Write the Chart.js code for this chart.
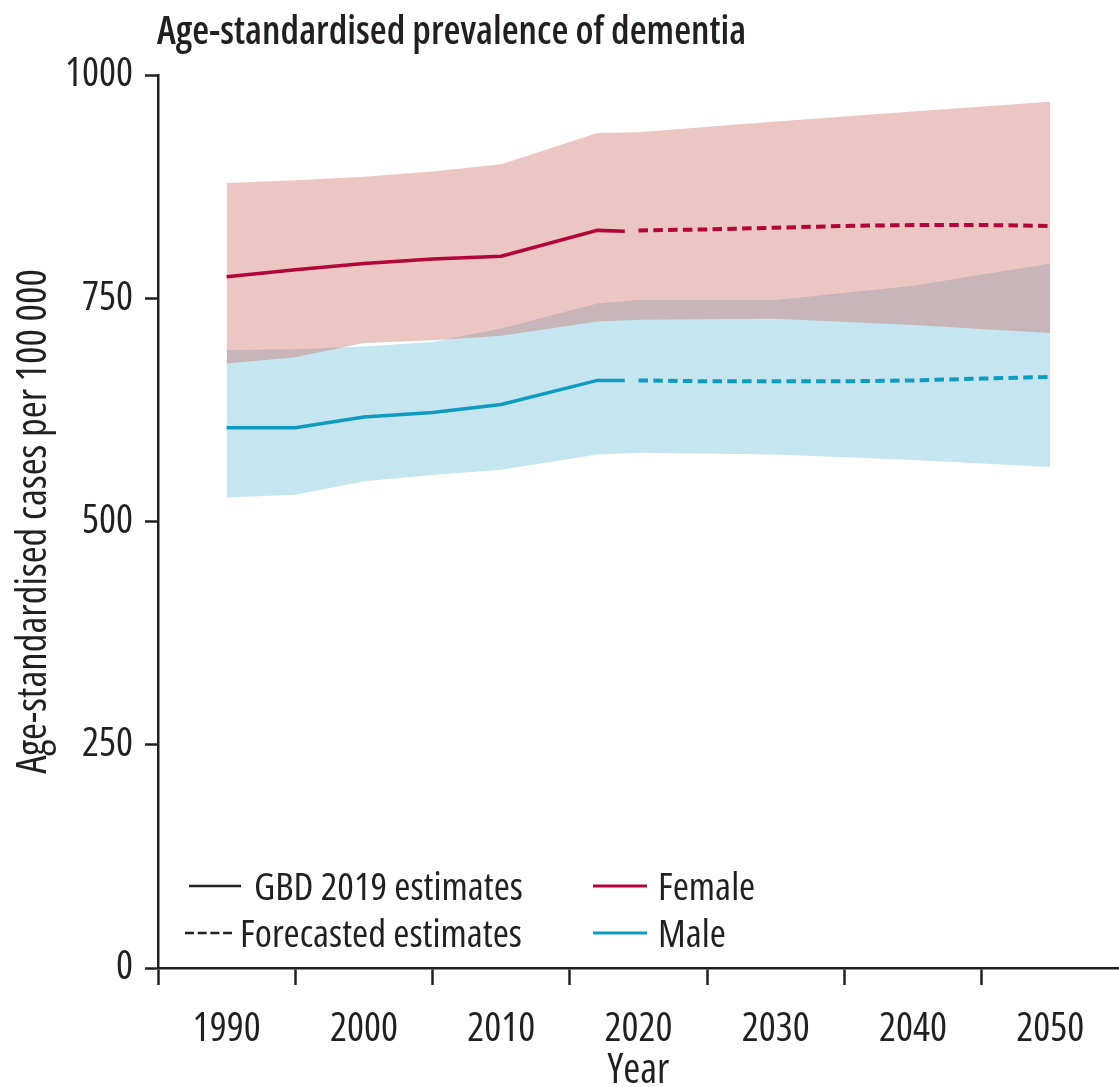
<!DOCTYPE html>
<html>
<head>
<meta charset="utf-8">
<title>Age-standardised prevalence of dementia</title>
<script src="https://cdn.jsdelivr.net/npm/chart.js@4.4.1/dist/chart.umd.min.js"></script>
<style>
  html, body { margin: 0; padding: 0; background: #fff; }
  #wrap {
    position: relative; width: 1119px; height: 1087px;
    font-family: 'Open Sans', sans-serif; color: #231f20;
  }
  #chartBox { position: absolute; left: 0; top: 0; width: 1119px; height: 1087px; }
  .title {
    position: absolute; left: 157px; top: 9px; line-height: 40px;
    font-size: 38.8px; font-weight: 600; font-stretch: condensed; white-space: nowrap;
  }
  .leg-text {
    position: absolute; line-height: 40px; font-size: 39px; font-stretch: condensed; white-space: nowrap;
  }
  .leg-line { position: absolute; overflow: visible; }
</style>
</head>
<body>
<div id="wrap">
  <div id="chartBox"><canvas id="demChart"></canvas></div>
  <div class="title">Age-standardised prevalence of dementia</div>

  <!-- leyenda: tipo de estimación y sexo -->
  <svg class="leg-line" style="left:185px; top:876px" width="60" height="20">
    <line x1="4" y1="10" x2="56" y2="10" stroke="#231f20" stroke-width="2.5"/>
  </svg>
  <div class="leg-text" style="left:254px; top:865px">GBD 2019 estimates</div>
  <svg class="leg-line" style="left:185px; top:923px" width="60" height="20">
    <line x1="0" y1="10" x2="47" y2="10" stroke="#231f20" stroke-width="2.5" stroke-dasharray="9 3.7"/>
  </svg>
  <div class="leg-text" style="left:240px; top:912px">Forecasted estimates</div>

  <svg class="leg-line" style="left:590px; top:876px" width="60" height="20">
    <line x1="3" y1="10" x2="57" y2="10" stroke="#b2063a" stroke-width="3"/>
  </svg>
  <div class="leg-text" style="left:658px; top:865px">Female</div>
  <svg class="leg-line" style="left:590px; top:923px" width="60" height="20">
    <line x1="3" y1="10" x2="57" y2="10" stroke="#0f9bbf" stroke-width="3"/>
  </svg>
  <div class="leg-text" style="left:658px; top:912px">Male</div>
</div>

<script>
// Datos (casos por 100 000)
const estimateYears = [1990, 1995, 2000, 2005, 2010, 2017, 2019];
const femaleEstimate = [774, 782, 789, 794, 797, 826, 825];
const maleEstimate = [605, 605, 617, 622, 631, 658, 658];

const forecastYears = [2020, 2025, 2030, 2035, 2040, 2045, 2050];
const femaleForecast = [826, 827, 829, 831, 832, 832, 831];
const maleForecast = [658, 657, 657, 657, 658, 660, 662];

// Intervalos de incertidumbre
const bandYears = [1990, 1995, 2000, 2005, 2010, 2017, 2020, 2030, 2040, 2050];
const femaleUpper = [879, 882, 886, 892, 900, 935, 936, 948, 959, 970];
const femaleLower = [677, 684, 700, 703, 708, 724, 726, 727, 720, 711];
const maleUpper = [692, 693, 696, 701, 716, 744, 748, 748, 764, 789];
const maleLower = [527, 530, 545, 552, 558, 575, 577, 575, 569, 561];

const yTickValues = [0, 250, 500, 750, 1000];

const ink = '#231f20';
const femaleColor = '#b2063a';
const maleColor = '#0f9bbf';
const fontFamily = "'Open Sans', sans-serif";
const pesoTexto = '400 condensed';   // cara condensada en el canvas
const tickSize = 40;
const axisTitleSize = 41;

function puntos(xs, ys) {
    return xs.map((x, i) => ({ x: x, y: ys[i] }));
}

function linea(xs, ys, color, dashed) {
    return {
        data: puntos(xs, ys),
        borderColor: color,
        borderWidth: dashed ? 4 : 3.5,
        borderDash: dashed ? [9.5, 5.3] : [],
        fill: false,
        pointRadius: 0
    };
}

function banda(xs, ys, fillColor, fillTarget) {
    return {
        data: puntos(xs, ys),
        borderColor: 'transparent',
        borderWidth: 0,
        backgroundColor: fillColor,
        fill: fillTarget,
        pointRadius: 0
    };
}

const ctx = document.getElementById('demChart').getContext('2d');
new Chart(ctx, {
    type: 'line',
    data: {
        datasets: [
            linea(forecastYears, femaleForecast, femaleColor, true),
            linea(estimateYears, femaleEstimate, femaleColor, false),
            linea(forecastYears, maleForecast, maleColor, true),
            linea(estimateYears, maleEstimate, maleColor, false),
            banda(bandYears, femaleUpper, 'rgba(202, 98, 87, 0.36)', '+1'),
            banda(bandYears, femaleLower, 'transparent', false),
            banda(bandYears, maleUpper, '#c5e5f1', '+1'),
            banda(bandYears, maleLower, 'transparent', false)
        ]
    },
    options: {
        responsive: true,
        maintainAspectRatio: false,
        animation: false,
        layout: { padding: { top: 75, right: 0, bottom: 0, left: 0 } },
        elements: { line: { tension: 0 } },
        plugins: {
            legend: { display: false },
            tooltip: { enabled: false },
            title: { display: false }
        },
        scales: {
            x: {
                type: 'linear',
                min: 1985,
                max: 2055,
                afterFit: function(scale) {
                    scale.height = 119;
                    scale.paddingLeft = 0;
                    scale.paddingRight = 0;
                },
                border: { display: true, color: ink, width: 2.5 },
                grid: {
                    drawOnChartArea: false,
                    drawTicks: true,
                    tickLength: 17,
                    tickWidth: 2.5,
                    tickColor: c => (c.tick && c.tick.value % 10 === 5 && c.tick.value <= 2045) ? ink : 'rgba(0,0,0,0)'
                },
                ticks: {
                    stepSize: 5,
                    autoSkip: false,
                    maxRotation: 0,
                    padding: 21,
                    color: ink,
                    font: { family: fontFamily, size: tickSize, weight: pesoTexto },
                    callback: v => (v % 10 === 0 ? String(v) : '')
                },
                title: {
                    display: true,
                    text: 'Year',
                    color: ink,
                    padding: 0,
                    font: { family: fontFamily, size: axisTitleSize, weight: pesoTexto, lineHeight: 0.78 }
                }
            },
            y: {
                min: 0,
                max: 1000,
                afterFit: function(scale) { scale.width = 158; },
                afterBuildTicks: function(scale) {
                    scale.ticks = yTickValues.map(v => ({ value: v }));
                },
                border: { display: true, color: ink, width: 2.5 },
                grid: {
                    drawOnChartArea: false,
                    tickLength: 13,
                    tickWidth: 2.5,
                    tickColor: ink
                },
                ticks: {
                    padding: 12,
                    color: ink,
                    font: { family: fontFamily, size: tickSize, weight: pesoTexto },
                    callback: v => String(v)
                },
                title: {
                    display: true,
                    text: 'Age-standardised cases per 100 000',
                    color: ink,
                    padding: { top: 10 },
                    font: { family: fontFamily, size: axisTitleSize, weight: pesoTexto }
                }
            }
        }
    }
});
</script>
</body>
</html>
